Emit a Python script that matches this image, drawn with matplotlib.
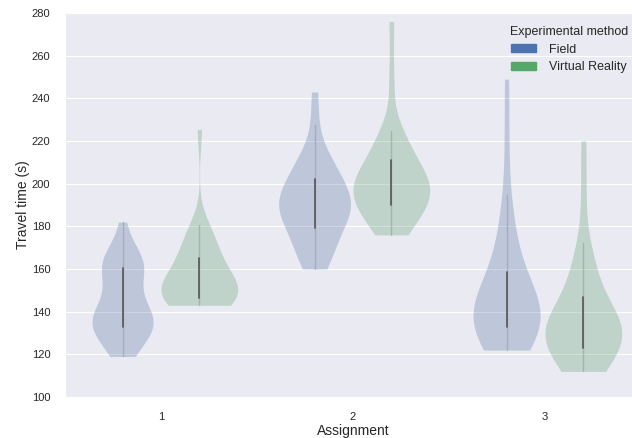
import numpy as np
import pandas as pd
import matplotlib
matplotlib.use('Agg')
import matplotlib.pyplot as plt
from matplotlib.patches import Patch
from matplotlib.cbook import boxplot_stats
import seaborn as sns

# travel times (s) per assignment and method
field_1 = [119, 121, 124, 127, 129, 130.5, 131.5, 132.5, 133.5, 134.5,
           135.5, 136.5, 137.5, 138.5, 139.5, 141, 143, 146, 150, 153,
           156, 158.5, 161, 162, 163, 164, 165, 167, 169, 182]
vr_1 = [143, 143, 143.5, 144, 144.5, 145, 145.5, 146, 147, 148,
        149, 150, 151, 152, 153, 154, 155, 156, 158, 160,
        162, 163, 166, 168, 170, 173, 176, 178, 180.5, 225.5]
field_2 = [160, 162, 165, 168, 171, 174, 176, 178.5, 181, 183,
           185, 186.5, 188, 189, 190, 191, 192, 193, 194, 195,
           197, 199, 203, 205, 207, 209, 211, 213, 227.5, 243]
vr_2 = [176, 178, 181, 183, 185, 187, 188.5, 189.5, 191, 193,
        194.5, 196, 197, 198, 199, 200, 200.5, 201, 202, 203,
        204, 206, 213, 214, 216, 219, 222, 224.5, 250, 276]
field_3 = [122, 122.5, 123.5, 125, 127, 129, 131, 132.5, 134.5, 136,
           137, 138, 139, 140, 141, 142, 143, 144.5, 146, 148,
           151, 155, 159.5, 164, 169, 175, 183, 194.5, 221, 249]
vr_3 = [112, 112.5, 114, 116.5, 119, 120.5, 122, 122.5, 125, 127.5,
        129, 130, 131, 132, 133, 133.5, 134, 135, 136, 137.5,
        139, 141.5, 148.5, 152, 156, 160, 165, 172, 196, 220]

assignments = ['1', '2', '3']
methods = ['Field', 'Virtual Reality']
method_colors = ['#4C72B0', '#55A868']
groups = {('1', 'Field'): field_1, ('1', 'Virtual Reality'): vr_1,
          ('2', 'Field'): field_2, ('2', 'Virtual Reality'): vr_2,
          ('3', 'Field'): field_3, ('3', 'Virtual Reality'): vr_3}

rows = []
for (a, m), vals in groups.items():
    for v in vals:
        rows.append({'Assignment': a, 'Experimental method': m, 'Travel time (s)': v})
df = pd.DataFrame(rows)

sns.set_style('darkgrid')
plt.rcParams['font.family'] = ['Liberation Sans', 'DejaVu Sans']
plt.rcParams['font.size'] = 8

fig = plt.figure(figsize=(6.32, 4.38), dpi=100)
ax = fig.add_axes([0.1028, 0.0936, 0.9114, 0.8767])

# one call per assignment so the widths are scaled within each assignment
for a in assignments:
    sns.violinplot(data=df[df['Assignment'] == a], x='Assignment', y='Travel time (s)',
                   hue='Experimental method', order=assignments, hue_order=methods,
                   palette=method_colors, cut=0, inner=None, linewidth=0,
                   common_norm=True, ax=ax, legend=False)
for c in ax.collections:
    c.set_alpha(0.3)

# inner box: faint whisker line, darker quartile line
for i, a in enumerate(assignments):
    for j, m in enumerate(methods):
        st = boxplot_stats(np.array(groups[(a, m)]))[0]
        xc = i + (j - 0.5) * 0.4
        ax.plot([xc, xc], [st['whislo'], st['whishi']], color='#9a9aa6', lw=1, alpha=0.6)
        ax.plot([xc, xc], [st['q1'], st['q3']], color='#555555', lw=1.2)

ax.set_ylim(100, 280)
ax.set_xlim(-0.5, 2.5)
ax.set_yticks(np.arange(100, 281, 20))
ax.xaxis.grid(False)
ax.tick_params(axis='both', pad=7, labelsize=8, colors='#262626')
ax.set_xlabel('Assignment', fontsize=10, labelpad=2)
ax.set_ylabel('Travel time (s)', fontsize=10, labelpad=1)

handles = [Patch(color=method_colors[0], label=methods[0]),
           Patch(color=method_colors[1], label=methods[1])]
ax.legend(handles=handles, title='Experimental method', frameon=False,
          loc='upper right', bbox_to_anchor=(1.0095, 0.963), bbox_transform=fig.transFigure,
          fontsize=9, title_fontsize=9, handlelength=2.0, handleheight=0.6,
          handletextpad=1.0, labelspacing=0.45, borderpad=0.3)

fig.savefig('out.png', dpi=100)
